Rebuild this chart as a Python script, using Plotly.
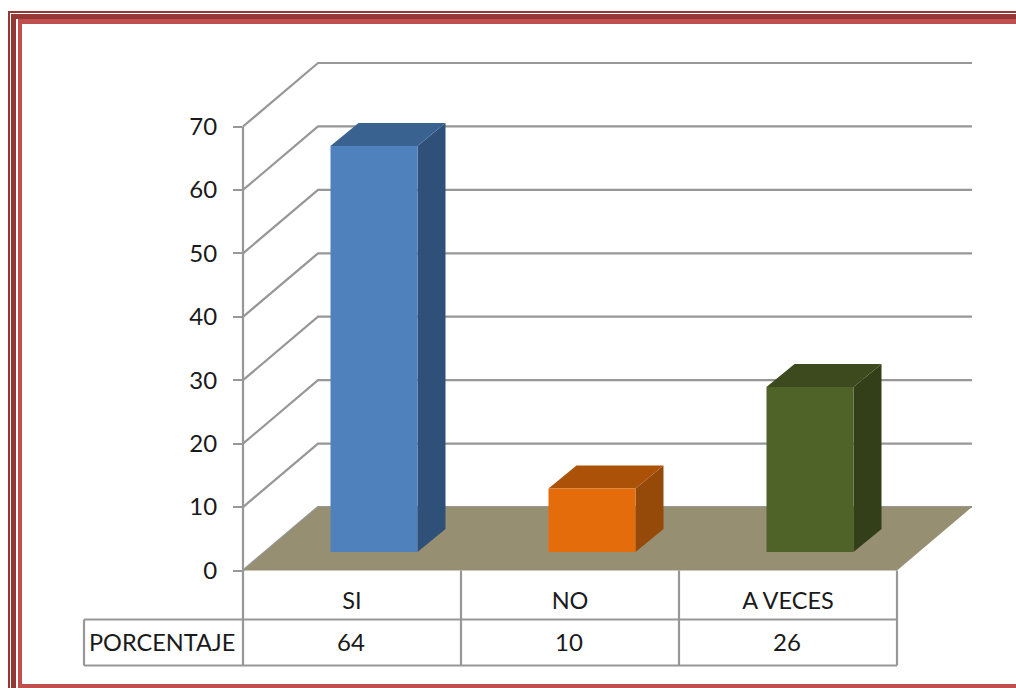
import plotly.graph_objects as go

categories = ["SI", "NO", "A VECES"]
values = [64, 10, 26]
y_ticks = [0, 10, 20, 30, 40, 50, 60, 70]
row_label = "PORCENTAJE"

front_colors = ["#4f81bd", "#e46c0a", "#4f6228"]
top_colors = ["#3a6291", "#ab5208", "#3c4a1e"]
side_colors = ["#2f5078", "#954a09", "#323f18"]
FLOOR = "#968f72"
GRID = "#979797"
TEXT = "#1a1a1a"
FONT = "Lato"

W, H = 1016, 688
PL, PR, PT, PB = 243, 897, 126.5, 570.5
ux = (PR - PL) / 3
uy = (PB - PT) / 70
WALL_DX, WALL_DY = 75 / ux, 63.5 / uy
BAR_DX, BAR_DY = 28 / ux, 23 / uy
BAR_SHIFT, BAR_HALF, BAR_BASE = 22 / ux, 43.5 / ux, 18.5 / uy


def poly(xs, ys, fill):
    return go.Scatter(
        x=xs + xs[:1], y=ys + ys[:1], mode="lines", fill="toself", fillcolor=fill,
        line=dict(width=0, color=fill), hoverinfo="skip", showlegend=False,
    )


def seg(xs, ys, width=2.2):
    return go.Scatter(x=xs, y=ys, mode="lines", line=dict(color=GRID, width=width),
                      hoverinfo="skip", showlegend=False)


fig = go.Figure()

# Back wall gridlines and side-wall diagonals
for t in y_ticks:
    fig.add_trace(seg([0, WALL_DX, 3 + WALL_DX], [t, t + WALL_DY, t + WALL_DY]))

# Floor
fig.add_trace(poly([0, 3, 3 + WALL_DX, WALL_DX], [0, 0, WALL_DY, WALL_DY], FLOOR))

# Bars
for i, v in enumerate(values):
    x0 = i + 0.5 + BAR_SHIFT - BAR_HALF
    x1 = i + 0.5 + BAR_SHIFT + BAR_HALF
    y0, y1 = BAR_BASE, BAR_BASE + v
    fig.add_trace(poly([x1, x1 + BAR_DX, x1 + BAR_DX, x1],
                       [y0, y0 + BAR_DY, y1 + BAR_DY, y1], side_colors[i]))
    fig.add_trace(poly([x0, x0 + BAR_DX, x1 + BAR_DX, x1],
                       [y1, y1 + BAR_DY, y1 + BAR_DY, y1], top_colors[i]))
    fig.add_trace(poly([x0, x1, x1, x0], [y0, y0, y1, y1], front_colors[i]))

# Data table grid under the axis
row1 = -49 / uy
row2 = -95 / uy
left = -159 / ux
for k in range(4):
    fig.add_trace(seg([k, k], [row2, 70 if k == 0 else 0]))
fig.add_trace(seg([left, 3], [row1, row1]))
fig.add_trace(seg([left, 3], [row2, row2]))
fig.add_trace(seg([left, left], [row1, row2]))

# Invisible trace on the inner axes, which carry the real tick labels
fig.add_trace(go.Scatter(x=[0.5, 1.5, 2.5], y=values, xaxis="x2", yaxis="y2", mode="markers",
                         marker=dict(opacity=0), hoverinfo="skip", showlegend=False))

annotations = [
    dict(x=i + 0.5, y=(row1 + row2) / 2 + 1 / uy, text=str(v), showarrow=False, xref="x", yref="y",
         xshift=-1, font=dict(family=FONT, size=24, color=TEXT))
    for i, v in enumerate(values)
]
annotations.append(dict(x=left / 2, y=(row1 + row2) / 2 + 1 / uy, text=row_label, showarrow=False,
                        xref="x", yref="y", xshift=-2, font=dict(family=FONT, size=23.5, color=TEXT)))


def rect(x0, y0, x1, y1, color):
    return dict(type="rect", xref="paper", yref="paper", x0=x0 / W, x1=x1 / W,
                y0=1 - y0 / H, y1=1 - y1 / H, fillcolor=color, line=dict(width=0), layer="above")


DARK = "#953735"
LIGHT = "#c0504d"
shapes = [
    rect(8, 11, W, 13, DARK), rect(11, 14, W, 19, DARK), rect(18, 19, W, 24, LIGHT),
    rect(8, 11, 10, H, DARK), rect(11, 14, 16, H, DARK), rect(18, 19, 22, H, LIGHT),
    rect(18, 684, W, H, LIGHT),
]

fig.update_layout(
    width=W, height=H, margin=dict(l=0, r=0, t=0, b=0), autosize=False,
    paper_bgcolor="white", plot_bgcolor="rgba(0,0,0,0)", showlegend=False,
    shapes=shapes, annotations=annotations,
    font=dict(family=FONT, color=TEXT),
    xaxis=dict(domain=[0, 1], range=[-PL / ux, (W - PL) / ux], visible=False, fixedrange=True,
               automargin=False),
    yaxis=dict(domain=[0, 1], range=[(PB - H) / uy, PB / uy], visible=False, fixedrange=True,
               automargin=False),
    xaxis2=dict(domain=[PL / W, PR / W], range=[0, 3], anchor="y2", tickmode="array",
                tickvals=[0.5, 1.5, 2.5], ticktext=categories, ticks="", showgrid=False,
                zeroline=False, showline=False, tickfont=dict(family=FONT, size=23.5, color=TEXT),
                ticklabelstandoff=14, fixedrange=True, automargin=False),
    yaxis2=dict(domain=[1 - PB / H, 1 - PT / H], range=[0, 70], anchor="x2", tickmode="array",
                tickvals=y_ticks, ticks="outside", ticklen=9, tickwidth=2.2, tickcolor=GRID,
                showline=False, showgrid=False, zeroline=False,
                tickfont=dict(family=FONT, size=24, color=TEXT), ticklabelstandoff=11,
                fixedrange=True, automargin=False),
)

fig.write_html("out.html", config={"displayModeBar": False},
               post_script="document.body.style.margin='0';document.body.style.overflow='hidden';")
